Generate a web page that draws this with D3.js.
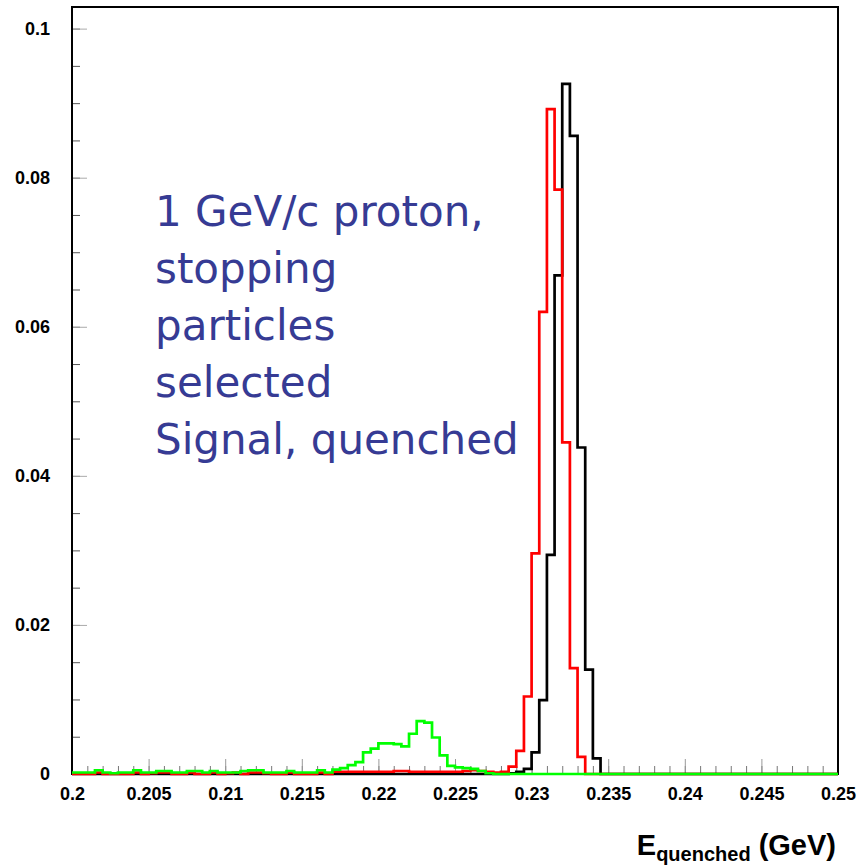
<!DOCTYPE html>
<html>
<head>
<meta charset="utf-8">
<script src="https://cdn.jsdelivr.net/npm/d3@7"></script>
<style>
  body { margin: 0; background: #fff; }
</style>
</head>
<body>
<div id="wrapper"></div>
<script>
// histogram: 100 bins from 0.2 to 0.25 GeV
const binStart = 0.2
const binWidth = 0.0005

// black: signal
const blackCounts = [
  0, 0, 0, 0, 0, 0, 0, 0, 0, 0,
  0, 0, 0, 0, 0, 0, 0, 0, 0, 0,
  0, 0, 0, 0, 0, 0, 0, 0, 0, 0,
  0, 0, 0, 0, 0, 0, 0, 0, 0, 0,
  0, 0, 0, 0, 0, 0, 0, 0, 0, 0,
  0, 0, 0, 0, 0, 0, 0, 0.0001, 0.0003, 0.0007,
  0.0029, 0.0099, 0.0294, 0.0669, 0.0926, 0.0856, 0.0438, 0.0140, 0.0021, 0,
  0, 0, 0, 0, 0, 0, 0, 0, 0, 0,
  0, 0, 0, 0, 0, 0, 0, 0, 0, 0,
  0, 0, 0, 0, 0, 0, 0, 0, 0, 0,
]

// red: quenched signal
const redCounts = [
  0, 0, 0, 0.0002, 0, 0, 0, 0, 0.0002, 0,
  0.0001, 0.0002, 0.0002, 0, 0, 0.0002, 0, 0, 0.0002, 0,
  0.0001, 0.0002, 0, 0.0002, 0.0002, 0.0001, 0, 0, 0.0002, 0,
  0, 0, 0.0002, 0, 0.0003, 0.0003, 0.0003, 0.0003, 0.0003, 0.0003,
  0.0003, 0.0003, 0.0004, 0.0004, 0.0003, 0.0003, 0.0003, 0.0003, 0.0003, 0.0003,
  0.0003, 0.0004, 0.0005, 0.0004, 0.0003, 0.0002, 0.0003, 0.0010, 0.0031, 0.0104,
  0.0296, 0.0620, 0.0892, 0.0784, 0.0445, 0.0142, 0.0023, 0, 0, 0,
  0, 0, 0, 0, 0, 0, 0, 0, 0, 0,
  0, 0, 0, 0, 0, 0, 0, 0, 0, 0,
  0, 0, 0, 0, 0, 0, 0, 0, 0, 0,
]

// green: non-stopping tail
const greenCounts = [
  0.0002, 0.0002, 0.0002, 0.0005, 0.0002, 0.0001, 0.0002, 0.0002, 0.0005, 0.0002,
  0.0002, 0.0004, 0.0004, 0.0002, 0.0002, 0.0004, 0.0004, 0.0002, 0.0004, 0.0002,
  0.0002, 0.0002, 0.0004, 0.0005, 0.0005, 0.0002, 0.0002, 0.0002, 0.0004, 0.0002,
  0.0002, 0.0002, 0.0005, 0.0002, 0.0006, 0.0008, 0.0012, 0.0016, 0.0029, 0.0034,
  0.0041, 0.0041, 0.0040, 0.0037, 0.0054, 0.0071, 0.0069, 0.0049, 0.0025, 0.0011,
  0.0009, 0.0008, 0.0007, 0.0004, 0.0001, 0, 0, 0, 0, 0,
  0, 0, 0, 0, 0, 0, 0, 0, 0, 0,
  0, 0, 0, 0, 0, 0, 0, 0, 0, 0,
  0, 0, 0, 0, 0, 0, 0, 0, 0, 0,
  0, 0, 0, 0, 0, 0, 0, 0, 0, 0,
]

const xTicks = [0.2, 0.205, 0.21, 0.215, 0.22, 0.225, 0.23, 0.235, 0.24, 0.245, 0.25]
const yTicks = [0, 0.02, 0.04, 0.06, 0.08, 0.1]

const noteLines = [
  "1 GeV/c proton,",
  "stopping",
  "particles",
  "selected",
  "Signal, quenched",
]

function drawChart() {
  // 1. Dimensions
  const dimensions = {
    width: 863,
    height: 866,
    margin: { top: 7, right: 25, bottom: 92, left: 72 },
  }
  dimensions.boundedWidth =
    dimensions.width - dimensions.margin.left - dimensions.margin.right
  dimensions.boundedHeight =
    dimensions.height - dimensions.margin.top - dimensions.margin.bottom

  // 2. Canvas
  const wrapper = d3
    .select("#wrapper")
    .append("svg")
    .attr("width", dimensions.width)
    .attr("height", dimensions.height)
    .style("background", "#fff")

  const bounds = wrapper
    .append("g")
    .attr("transform", `translate(${dimensions.margin.left},${dimensions.margin.top})`)

  // 3. Scales
  const xScale = d3
    .scaleLinear()
    .domain([0.2, 0.25])
    .range([0, dimensions.boundedWidth])

  const yScale = d3
    .scaleLinear()
    .domain([0, 0.1029])
    .range([dimensions.boundedHeight, 0])

  // 4. Axes (ticks drawn inside the frame, ROOT style)
  const labelFont = "'Liberation Sans', Arial, Helvetica, sans-serif"
  const fmt = (d) => String(+d.toFixed(4))

  const xMinor = d3.range(0, 51).map((i) => 0.2 + i * 0.001)
  bounds
    .append("g")
    .attr("transform", `translate(0,${dimensions.boundedHeight})`)
    .call(d3.axisBottom(xScale).tickValues(xMinor).tickSize(-8).tickFormat(""))
    .call((g) => g.select(".domain").remove())
    .call((g) => g.selectAll("line").attr("stroke", "#777"))

  bounds
    .append("g")
    .attr("transform", `translate(0,${dimensions.boundedHeight})`)
    .call(d3.axisBottom(xScale).tickValues(xTicks).tickSize(-15).tickPadding(13).tickFormat(fmt))
    .call((g) => g.select(".domain").remove())
    .call((g) => g.selectAll("line").attr("stroke", "#999"))
    .call((g) =>
      g.selectAll("text")
        .attr("fill", "#000")
        .style("font-family", labelFont)
        .style("font-weight", "bold")
        .style("font-size", "18px")
    )

  const yMinor = d3.range(0, 21).map((i) => i * 0.005)
  bounds
    .append("g")
    .call(d3.axisLeft(yScale).tickValues(yMinor).tickSize(-8).tickFormat(""))
    .call((g) => g.select(".domain").remove())
    .call((g) => g.selectAll("line").attr("stroke", "#555"))

  bounds
    .append("g")
    .call(d3.axisLeft(yScale).tickValues(yTicks).tickSize(-15).tickPadding(22).tickFormat(fmt))
    .call((g) => g.select(".domain").remove())
    .call((g) => g.selectAll("line").attr("stroke", "#aaa"))
    .call((g) =>
      g.selectAll("text")
        .attr("fill", "#000")
        .style("font-family", labelFont)
        .style("font-weight", "bold")
        .style("font-size", "18px")
    )

  // 5. Frame (under the histograms, so the green baseline shows on the axis)
  bounds
    .append("rect")
    .attr("x", 0)
    .attr("y", 0)
    .attr("width", dimensions.boundedWidth)
    .attr("height", dimensions.boundedHeight)
    .attr("fill", "none")
    .attr("stroke", "#000")
    .attr("stroke-width", 2)

  // 6. Histograms
  const stepLine = d3
    .line()
    .x((d) => xScale(d.x))
    .y((d) => yScale(d.y))
    .curve(d3.curveStepAfter)

  const toPoints = (counts) => {
    const pts = counts.map((c, i) => ({ x: binStart + i * binWidth, y: c }))
    pts.push({ x: binStart + counts.length * binWidth, y: counts[counts.length - 1] })
    return pts
  }

  const series = [
    { counts: blackCounts, color: "#000000" },
    { counts: redCounts, color: "#ff0000" },
    { counts: greenCounts, color: "#00ff00" },
  ]

  bounds
    .selectAll(".hist")
    .data(series)
    .join("path")
    .attr("class", "hist")
    .attr("d", (d) => stepLine(toPoints(d.counts)))
    .attr("fill", "none")
    .attr("stroke", (d) => d.color)
    .attr("stroke-width", 2.7)
    .attr("stroke-linejoin", "miter")

  // 7. Axis title
  const title = wrapper
    .append("text")
    .attr("x", 836)
    .attr("y", 855)
    .attr("text-anchor", "end")
    .style("font-family", labelFont)
    .style("font-weight", "bold")
    .attr("fill", "#000")
  title.append("tspan").style("font-size", "29px").text("E")
  title.append("tspan").style("font-size", "20px").attr("dy", 6).text("quenched")
  title.append("tspan").style("font-size", "29px").attr("dy", -6).text(" (GeV)")

  // 8. Annotation
  wrapper
    .append("g")
    .selectAll("text")
    .data(noteLines)
    .join("text")
    .attr("x", 155)
    .attr("y", (d, i) => 226 + i * 57)
    .text((d) => d)
    .attr("fill", "#363b94")
    .style("font-family", "'Comic Sans MS', 'DejaVu Sans', sans-serif")
    .style("font-size", "42px")
}
drawChart()
</script>
</body>
</html>
